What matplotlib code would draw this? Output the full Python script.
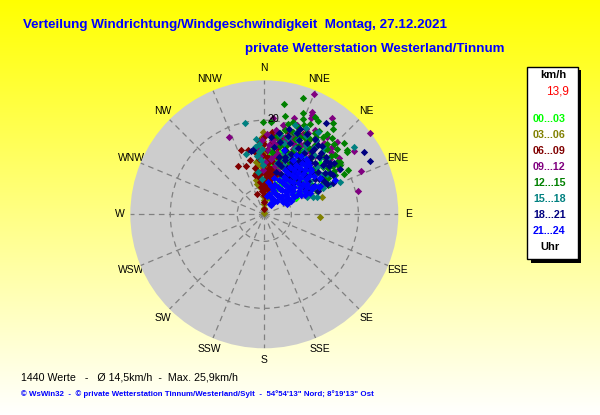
import numpy as np
import matplotlib
matplotlib.use("Agg")
import matplotlib.pyplot as plt
from matplotlib.patches import Rectangle

plt.rcParams['font.family'] = ['Liberation Sans', 'DejaVu Sans']

directions = ['N','NNE','NE','ENE','E','ESE','SE','SSE','S','SSW','SW','WSW','W','WNW','NW','NNW']
legend_labels = ['00...03','03...06','06...09','09...12','12...15','15...18','18...21','21...24']
legend_colors = ['#00FF00','#808000','#800000','#800080','#008000','#008080','#000080','#0000FF']

lime_dir = [8,12,5,18,22,27,10,15,32,38,3,7,14,20,25,30,36,42,48,12,17,6,9,24,29,35,41,16,21,11,4,13,26,33,45,19,28,2,8,23,1,4,10,6,52,58,62,55,47,39,18,31,14,2,60]
lime_spd = [7.5,9.2,5.5,11.4,8.1,10.6,12.3,6.4,13.1,9.8,8.7,10.9,13.6,6.8,14.2,7.2,12.1,10.4,14.8,4.7,15.5,14.1,6.2,12.8,16.2,8.9,13.5,10.2,9.1,11.7,11.3,8.2,5.9,15.1,11.9,13.3,11.0,6.6,16.4,17.2,7.1,8.8,5.0,12.6,9.7,8.4,7.6,11.3,16.1,15.8,17.4,17.1,3.9,9.9,12.0]

olive_dir = [0,357,359,355,352,358,356,353,1,354,359,357,351,2,356,358,355,4,0,353,6,349,3,357,73,93,351,8,5,1,347,346,350,359,348,359,357,355,352,350,1,3,6,9,359,356,354,2,12,8]
olive_spd = [0.3,3.1,5.2,6.8,9.4,12.2,13.9,11.2,4.2,8.3,15.6,14.9,10.4,7.4,15.0,16.4,11.9,10.1,2.1,13.0,5.4,7.2,9.6,12.7,12.9,11.9,11.2,3.3,6.1,13.5,7.4,6.6,8.6,17.6,9.0,1.4,2.2,3.9,5.6,6.2,5.8,6.9,4.1,7.6,8.8,10.2,12.6,10.6,5.6,9.2]

maroon_dir = [0,0,0,9,339,355,2,5,8,352,358,3,12,7,15,1,6,350,356,10,340,346,331,339,4,14,9,19,354,359,2,11,17,6,13,358,352,0,8,24,5,22,16,10,3,349,27,345,356,7,12,20,0,359,1,3,0,357,354,2,6,4,9,353,351,358,5,13,18,26,31,35,10,347]
maroon_spd = [1.2,2.7,4.0,4.1,4.6,5.0,5.6,6.3,5.4,7.0,6.4,7.6,7.9,8.6,8.4,9.2,9.8,9.0,8.7,11.2,14.5,14.2,11.7,10.9,11.0,12.4,13.1,11.3,11.8,12.6,13.6,14.3,15.2,15.4,16.8,10.4,13.2,14.9,16.8,14.1,17.6,18.0,18.3,6.8,3.9,10.0,16.0,12.0,15.6,8.0,10.6,9.4,5.2,7.6,10.6,12.3,16.4,9.2,7.8,8.6,7.2,9.1,9.7,5.8,8.2,5.8,12.1,9.0,14.4,18.9,17.7,16.8,14.9,8.6]

purple_dir = [22.6,52.3,335.6,76.3,66.1,55,45.2,35.3,24.9,25.6,26,5,17,8,12,20,28,31,35,40,15,10,24,6,14,19,33,38,44,50,3,9,29,21,27,42,16,12,48,7,18,25,36,32,2,358,1,13,23,11,30,353,356,4,8,47,53,59,33,39,26,20,14,22,29,45,51,358,36,10,18,24,31,37,12,16,28,34,41,9,21,26,15]
purple_spd = [27.7,28.4,18.0,20.6,22.6,23.4,21.7,25.0,23.9,23.4,22.9,20.5,21.5,18.2,19.4,20.2,19.6,21.0,19.0,19.8,16.4,14.8,17.6,15.8,12.7,14.2,16.8,15.6,17.1,18.2,13.6,17.4,14.7,12.3,10.8,14.4,18.7,10.6,15.2,11.8,9.7,11.2,12.2,9.5,17.1,15.9,11.2,15.4,16.2,13.1,18.8,14.2,12.4,14.8,12.6,19.3,19.9,18.6,20.6,21.2,20.1,18.2,18.6,19.6,17.2,20.3,16.5,9.4,17.9,16.2,15.8,15.1,18.2,18.4,13.3,12.1,16.6,15.9,16.4,15.2,17.2,18.7,17.0]

green_dir = [18.6,10.3,359.4,4,12.1,29.7,27.6,21.1,39,37.2,52.2,48.4,53,48,41.5,55.6,57.2,54.5,56,62.4,63.4,65.6,44,32,24,15,19,34,42,50,58,28,22,36,46,16,26,38,31,54,60,13,41,47,20,35,29,25,44,52,64,49,58,66,17,23,33,39,45,9,7,14,27,31,37,43,49,55,61,12,18,24,30,40,34,57,51,62,11,17,22,27,33,38,45,21,25,30,36,14,19]
green_spd = [26.0,23.8,19.6,19.6,21.3,22.9,23.4,23.0,23.3,24.3,22.2,22.8,22.0,20.9,21.7,19.6,19.2,19.1,18.8,20.2,19.0,14.9,19.2,20.4,20.8,19.8,18.6,19.8,20.0,19.5,17.4,18.4,17.2,18.2,17.6,17.2,16.2,16.6,15.4,16.8,15.6,14.8,14.8,14.2,14.0,13.4,12.8,12.2,12.6,13.8,13.0,11.2,11.8,12.2,12.2,10.6,10.4,9.6,10.2,16.8,13.4,18.4,19.4,18.8,20.6,18.6,18.9,17.8,17.2,16.0,15.2,14.8,15.1,15.8,17.0,15.0,16.0,14.2,17.7,20.6,21.9,21.6,21.2,21.7,21.1,19.9,18.2,17.6,16.9,15.6,13.2]

teal_dir = [347.8,343.3,53.3,67,63.9,67.2,356,354,358,352,355,357,353,359,21,28,35,43,52,60,65,25,32,40,48,56,62,18,30,38,46,54,70,22,34,50,68,27,42,36,72,58,351,356,15,24,31,37,45,51,57,63,66,14,20,29,19,26,33,41,48,17,23,38,11]
teal_spd = [19.8,13.3,23.9,10.3,12.6,17.5,15.0,16.2,13.8,14.4,13.2,11.6,12.4,10.4,18.6,18.9,19.3,18.1,17.6,16.9,15.4,15.6,15.9,16.4,15.0,14.8,13.0,13.6,13.2,13.8,12.9,12.1,11.0,11.4,11.1,10.7,9.8,9.2,8.9,8.2,11.8,9.4,9.2,7.6,15.8,17.4,17.2,17.6,16.9,16.2,15.9,14.2,13.6,11.2,12.2,12.4,20.1,20.4,20.9,18.9,17.9,16.9,12.9,14.9,17.2]

navy_dir = [58.2,63.4,34.3,59.4,65.8,350,348.4,10,16,5,22,28,34,40,47,53,58,25,31,37,44,50,56,62,20,27,33,39,45,52,59,18,24,30,36,42,48,55,14,21,28,35,41,47,53,60,66,19,26,32,38,44,50,57,16,23,29,35,43,62,46,8,12,17,23,38,43,49,54,60,64,26,33,41,15,20,30,37,52,57]
navy_spd = [25.0,25.2,23.4,18.8,16.1,13.8,13.8,17.6,18.9,16.6,18.6,19.4,19.2,19.0,18.0,17.2,16.5,17.4,17.6,17.4,16.9,16.2,15.6,14.6,16.2,15.8,15.6,15.8,15.4,14.6,14.4,14.4,14.1,14.2,14.0,13.8,13.6,13.1,12.6,12.4,12.6,12.3,12.2,12.0,11.6,12.2,12.4,10.8,11.0,10.9,10.8,10.4,10.1,10.2,9.4,9.2,9.4,9.2,8.8,10.6,7.8,14.4,15.8,17.4,19.6,18.6,17.8,17.4,18.4,16.8,14.9,13.2,13.6,14.8,11.2,13.0,11.8,16.8,17.8,13.9]

blue_dir = [64,64.4,20,25,30,35,40,45,50,55,19,24,29,34,39,44,49,54,59,21,26,31,36,41,46,51,56,23,28,33,38,43,48,53,60,27,32,37,42,47,52,57,62,25,30,35,40,45,50,29,34,39,44,49,33,38,43,36,41,46,30,35,28,40,55,60,62,64,65,61,63,58,66,60,63,56,12,9,7,15,19,13,17,28,32,37,42,47,52,57]
blue_spd = [6.3,16.7,4.0,3.8,3.6,3.5,3.7,3.9,5.0,6.1,5.4,5.2,5.0,4.9,5.1,5.4,6.1,7.2,8.0,6.6,6.5,6.3,6.3,6.6,7.0,7.8,8.8,8.0,7.8,7.6,7.7,8.0,8.6,9.4,9.9,9.0,8.9,9.0,9.2,9.9,10.5,10.8,11.4,10.4,10.2,10.2,10.3,10.8,11.6,11.4,11.3,11.4,11.8,12.5,12.4,12.5,12.8,13.5,13.6,13.9,2.6,2.4,13.2,14.4,11.2,7.2,8.8,9.6,10.8,12.3,13.4,4.8,5.4,11.6,13.0,5.2,4.5,4.0,7.0,8.0,6.5,6.2,14.2,14.4,14.6,14.8,14.2,13.6,13.4,14.0]

series = [(lime_dir, lime_spd), (olive_dir, olive_spd), (maroon_dir, maroon_spd), (purple_dir, purple_spd),
          (green_dir, green_spd), (teal_dir, teal_spd), (navy_dir, navy_spd), (blue_dir, blue_spd)]

W, H = 600, 415
fig = plt.figure(figsize=(6, 4.15), dpi=100)

bg = fig.add_axes([0, 0, 1, 1])
grad = np.ones((H, 1, 3))
grad[:, 0, 2] = np.linspace(0, 1, H)
bg.imshow(grad, extent=[0, W, H, 0], aspect='auto', zorder=0)
bg.set_xlim(0, W); bg.set_ylim(H, 0); bg.axis('off')

def txt(x, y, s, **kw):
    kw.setdefault('va', 'center')
    bg.text(x, y, s, **kw)

txt(23, 25, 'Verteilung Windrichtung/Windgeschwindigkeit  Montag, 27.12.2021', color='#0000FF', fontsize=9.6, fontweight='bold')
txt(245, 49, 'private Wetterstation Westerland/Tinnum', color='#0000FF', fontsize=9.6, fontweight='bold')
txt(21, 377, '1440 Werte   -   Ø 14,5km/h  -  Max. 25,9km/h', color='black', fontsize=7.7)
txt(21, 394, '© WsWin32  -  © private Wetterstation Tinnum/Westerland/Sylt  -  54°54\'13" Nord; 8°19\'13" Ost', color='#0000FF', fontsize=5.7, fontweight='bold')

bg.add_patch(Rectangle((531, 70), 50, 193, fc='black', ec='none', zorder=2))
bg.add_patch(Rectangle((527, 67), 50.5, 192, fc='white', ec='black', lw=1, zorder=3))
txt(553, 75.5, 'km/h', ha='center', fontsize=8, fontweight='bold', color='black', zorder=4)
txt(569, 92, '13,9', ha='right', fontsize=8.5, color='#FF0000', zorder=4)
for i, (lab, col) in enumerate(zip(legend_labels, legend_colors)):
    txt(533, 119 + 16 * i, lab, fontsize=7.7, fontweight='bold', color=col, zorder=4)
txt(550, 247, 'Uhr', ha='center', fontsize=8, fontweight='bold', color='black', zorder=4)

cx, cy, R = 264.3, 214.3, 134
for i, lab in enumerate(directions):
    a = np.deg2rad(22.5 * i)
    txt(cx + 144 * np.sin(a), cy - 146 * np.cos(a), lab, ha='center', fontsize=7.5, color='black')

ax = fig.add_axes([(cx - R) / W, 1 - (cy + R) / H, 2 * R / W, 2 * R / H], projection='polar')
ax.set_theta_zero_location('N')
ax.set_theta_direction(-1)
ax.set_facecolor('#CDCDCD')
ax.spines['polar'].set_visible(False)
ax.set_ylim(0, 28.5)
ax.set_thetagrids(np.arange(0, 360, 22.5), [''] * 16)
ax.set_rgrids([5.75, 20], ['', ''])
ax.grid(True, color='#808080', lw=0.9, ls=(0, (4.5, 3.5)))
ax.set_axisbelow(True)

for (d, s), col in zip(series, legend_colors):
    ax.scatter(np.deg2rad(d), s, marker='D', s=14, color=col, linewidths=0, clip_on=False, zorder=3)
ax.scatter([0], [0], marker='s', s=14, color='#808080', linewidths=0, zorder=2.5)
ax.text(np.deg2rad(5.3), 20.3, '20', fontsize=7.7, ha='center', va='center', color='black', zorder=5)

fig.savefig('out.png', dpi=100)
